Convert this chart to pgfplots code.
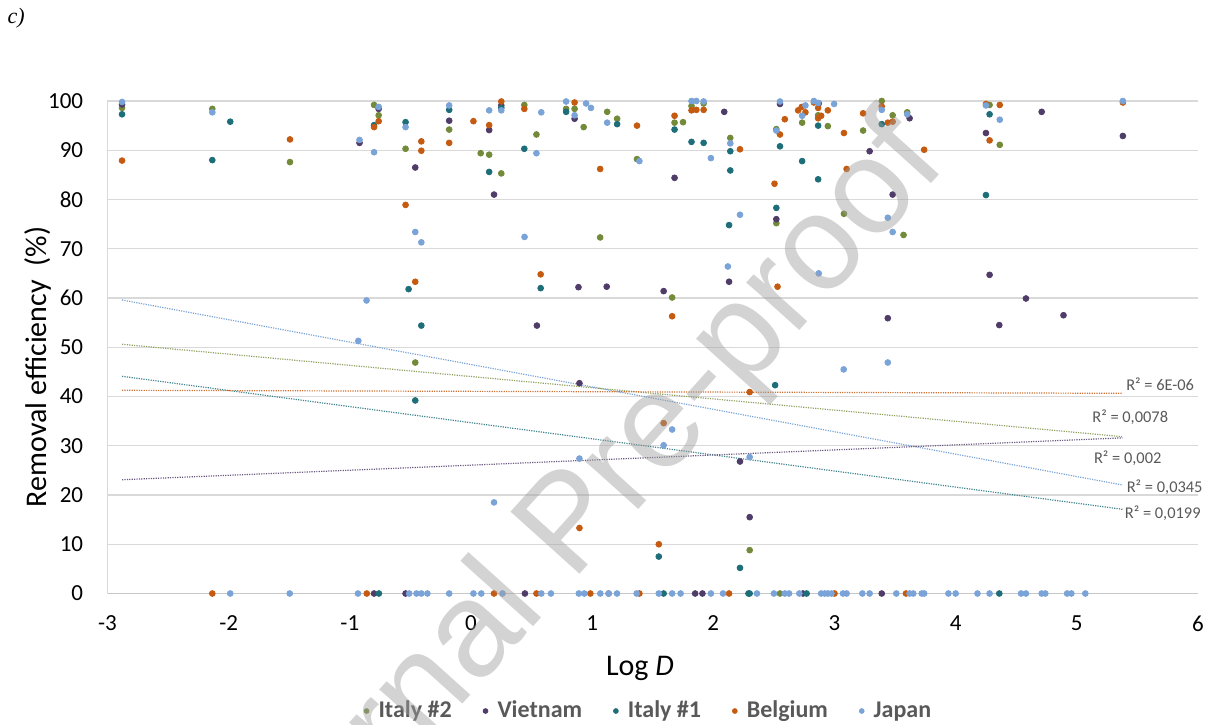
\documentclass[border=0pt]{standalone}
\usepackage{fontspec}
\setmainfont{Carlito}
\newfontfamily\wmfont{Liberation Sans}
\newfontfamily\cfont{Liberation Serif}
\usepackage{pgfplots}
\pgfplotsset{compat=1.18}
\definecolor{cgreen}{RGB}{115,138,58}
\definecolor{cpurple}{RGB}{80,60,105}
\definecolor{cteal}{RGB}{30,110,122}
\definecolor{corange}{RGB}{197,90,17}
\definecolor{cblue}{RGB}{122,163,216}
\definecolor{gridgray}{RGB}{217,217,217}
\definecolor{axgray}{RGB}{200,200,200}
\definecolor{textgray}{RGB}{89,89,89}
\definecolor{wmgray}{RGB}{158,158,158}

\pgfplotstableread{
x y
-2.88 98.6
-2.135 98.4
-1.494 87.6
-0.80 99.2
-0.762 97.1
-0.54 90.3
-0.46 46.9
-0.18 94.2
0.08 89.4
0.15 89.1
0.25 85.3
0.44 99.2
0.54 93.2
0.785 98.4
0.855 98.4
0.93 94.7
1.066 72.3
1.124 97.8
1.206 96.4
1.37 88.2
1.66 60.1
1.68 95.6
1.75 95.7
1.82 99.0
1.92 99.5
2.14 92.5
2.30 8.8
2.52 94.3
2.52 75.2
2.55 0
2.733 95.6
2.865 97.1
2.945 94.9
3.078 77.1
3.236 94.0
3.39 100
3.48 97.1
3.57 72.8
3.60 97.7
4.28 99.2
4.364 91.1
}\italytwo

\pgfplotstableread{
x y
-2.88 99.3
-0.92 91.5
-0.80 0
-0.762 98.4
-0.54 0
-0.46 86.5
-0.18 96.0
0.15 94.1
0.19 81.0
0.25 99.1
0.445 0
0.544 54.4
0.855 96.4
0.887 62.2
0.895 42.7
1.12 62.3
1.59 61.4
1.68 84.4
1.85 0
1.91 0
2.09 97.8
2.13 63.3
2.22 26.8
2.30 15.5
2.52 76.0
2.55 99.4
2.74 0
2.87 99.5
3.29 89.8
3.39 0
3.44 55.9
3.48 81.0
3.62 96.5
4.25 93.5
4.28 64.7
4.36 54.5
4.58 59.9
4.71 97.8
4.89 56.5
5.38 92.9
}\vietnam

\pgfplotstableread{
x y
-2.88 97.3
-2.135 88.0
-1.987 95.8
-0.80 95.1
-0.76 0
-0.54 95.7
-0.515 61.8
-0.46 39.2
-0.41 54.4
-0.18 98.2
0.15 85.6
0.25 98.6
0.44 90.3
0.575 62.0
0.785 97.8
1.206 95.3
1.55 7.5
1.59 0
1.68 94.2
1.82 91.7
1.92 91.5
2.13 74.8
2.14 89.8
2.14 85.9
2.22 5.2
2.29 0
2.30 0
2.51 42.3
2.52 78.3
2.55 90.8
2.733 87.8
2.77 0
2.865 95.0
2.865 84.1
3.39 95.3
4.25 80.9
4.28 97.3
4.36 0
}\italyone

\pgfplotstableread{
x y
-2.88 87.9
-2.135 0
-1.494 92.2
-0.86 0
-0.80 94.7
-0.762 95.9
-0.54 78.9
-0.46 63.3
-0.41 91.8
-0.41 89.9
-0.18 91.5
0.02 95.9
0.15 95.1
0.19 0
0.25 99.9
0.44 98.4
0.54 0
0.575 64.8
0.855 99.7
0.895 13.3
0.985 0
1.066 86.2
1.136 0
1.37 95.0
1.39 0
1.55 10.0
1.59 34.6
1.66 56.3
1.68 97.0
1.82 98.1
1.86 98.2
1.92 98.2
2.13 0
2.22 90.2
2.30 40.9
2.505 83.2
2.53 62.3
2.55 93.2
2.59 96.3
2.70 98.1
2.73 98.8
2.76 97.7
2.83 99.7
2.865 98.6
2.865 96.5
2.89 97.0
2.945 98.1
3.00 0
3.078 93.5
3.10 86.2
3.236 97.5
3.39 98.9
3.44 95.6
3.48 95.8
3.59 0
3.74 90.1
4.25 99.4
4.28 92.0
4.364 99.2
5.38 99.7
}\belgium

\pgfplotstableread{
x y
-2.88 99.8
-2.135 97.7
-1.987 0
-1.496 0
-0.933 0
-0.93 51.3
-0.92 92.1
-0.862 59.5
-0.80 89.6
-0.762 98.8
-0.54 94.7
-0.51 0
-0.46 73.4
-0.45 0
-0.41 71.3
-0.41 0
-0.36 0
-0.18 99.1
-0.18 0
0.02 0
0.085 0
0.15 98.1
0.19 18.5
0.25 98.1
0.26 0
0.442 72.4
0.54 89.4
0.58 97.7
0.58 0
0.66 0
0.785 99.9
0.855 97.1
0.89 0
0.895 27.4
0.935 0
0.95 99.5
0.99 98.6
1.067 0
1.124 95.6
1.136 0
1.205 0
1.367 0
1.39 87.8
1.55 0
1.59 30.1
1.66 33.3
1.66 0
1.73 0
1.82 100
1.86 100
1.92 99.9
1.98 88.4
1.98 0
2.08 0
2.12 66.4
2.14 91.4
2.22 76.9
2.30 27.7
2.36 0
2.50 0
2.52 94.0
2.55 99.9
2.59 0
2.625 0
2.71 0
2.733 97.0
2.76 99.1
2.83 100
2.865 99.6
2.87 65.0
2.89 0
2.92 0
2.945 0
2.975 0
2.997 99.4
3.07 0
3.076 45.5
3.10 0
3.23 0
3.29 0
3.39 98.2
3.44 76.3
3.44 46.9
3.48 73.4
3.51 0
3.60 97.3
3.62 0
3.65 0
3.72 0
3.74 0
3.94 0
4.00 0
4.18 0
4.25 99.1
4.28 0
4.364 96.2
4.54 0
4.58 0
4.71 0
4.74 0
4.92 0
4.955 0
5.07 0
5.38 100
}\japan

\begin{document}
\begin{tikzpicture}
\path[use as bounding box] (-53.75pt,-65.25pt) rectangle (553.75pt,296.75pt);
\begin{axis}[
  at={(0pt,0pt)}, anchor=south west,
  scale only axis, width=545.25pt, height=246.25pt,
  xmin=-3, xmax=6, ymin=0, ymax=100,
  xtick={-3,-2,...,6}, ytick={0,10,...,100},
  axis lines*=left,
  axis line style={draw=axgray, line width=0.6pt},
  x axis line style={-}, y axis line style={-, draw=gridgray},
  major tick length=0pt,
  ymajorgrids, grid style={draw=gridgray, line width=0.6pt},
  /pgf/number format/assume math mode=true,
  tick label style={font=\fontsize{11.5}{13}\selectfont, text=black},
  xticklabel style={anchor=north, inner sep=0pt, yshift=-11pt},
  yticklabel style={anchor=east, inner sep=0pt, xshift=-12pt},
  xlabel={Log \textit{D}},
  ylabel={Removal efficiency\ \ (\%)},
  label style={font=\fontsize{15}{18}\selectfont},
  xlabel style={at={(axis description cs:0.4883,-0.1655)}, anchor=base},
  ylabel style={at={(axis description cs:-0.0558,0.46)}, anchor=base, rotate=0},
  clip=false,
  legend style={at={(axis description cs:0.497,-0.2386)}, anchor=center,
    draw=none, fill=none, inner sep=0pt, legend columns=-1,
    font=\bfseries\fontsize{12}{14}\selectfont, text=textgray,
    /tikz/every odd column/.append style={column sep=2.6pt},
    /tikz/every even column/.append style={column sep=13.5pt}},
  legend image code/.code={\fill[#1] (0pt,0pt) circle (1.2pt);},
  every axis plot/.append style={only marks, mark=*, mark size=1.45pt},
]
\addplot[color=cgreen, mark options={draw=none, fill=cgreen}] table {\italytwo};
\addlegendentry{Italy \#2}
\addplot[color=cpurple, mark options={draw=none, fill=cpurple}] table {\vietnam};
\addlegendentry{Vietnam}
\addplot[color=cteal, mark options={draw=none, fill=cteal}] table {\italyone};
\addlegendentry{Italy \#1}
\addplot[color=corange, mark options={draw=none, fill=corange}] table {\belgium};
\addlegendentry{Belgium}
\addplot[color=cblue, mark options={draw=none, fill=cblue}] table {\japan};
\addlegendentry{Japan}

\addplot[forget plot, sharp plot, no marks, draw=cblue, line width=0.6pt, dash pattern=on 0.6pt off 0.6pt] coordinates {(-2.88,59.6) (5.377,22.03)};
\addplot[forget plot, sharp plot, no marks, draw=cgreen!80, line width=0.6pt, dash pattern=on 0.6pt off 0.6pt] coordinates {(-2.88,50.6) (5.377,31.84)};
\addplot[forget plot, sharp plot, no marks, draw=cteal!85, line width=0.6pt, dash pattern=on 0.6pt off 0.6pt] coordinates {(-2.88,44.1) (5.377,17.1)};
\addplot[forget plot, sharp plot, no marks, draw=corange!85, line width=0.6pt, dash pattern=on 0.6pt off 0.6pt] coordinates {(-2.88,41.26) (5.377,40.65)};
\addplot[forget plot, sharp plot, no marks, draw=cpurple!85, line width=0.6pt, dash pattern=on 0.6pt off 0.6pt] coordinates {(-2.88,23.1) (5.377,31.6)};

\begin{scope}[every node/.style={font=\fontsize{8.2}{10}\selectfont, text=textgray, inner sep=0pt}]
\node at (axis cs:5.688,42.54) {R² = 6E-06};
\node at (axis cs:5.441,35.78) {R² = 0,0078};
\node at (axis cs:5.42,27.45) {R² = 0,002};
\node at (axis cs:5.725,21.56) {R² = 0,0345};
\node at (axis cs:5.709,16.28) {R² = 0,0199};
\end{scope}
\end{axis}
\node[anchor=base west, inner sep=0pt, font=\cfont\itshape\fontsize{11}{13}\selectfont] at (-50.1pt,284.75pt) {c)};
\node[anchor=base west, inner sep=0pt, rotate=48, text=wmgray, text opacity=0.45,
  font=\wmfont\fontsize{67.5}{70}\selectfont] at (71.75pt,-173.25pt) {Journal Pre-proof};
\end{tikzpicture}
\end{document}
